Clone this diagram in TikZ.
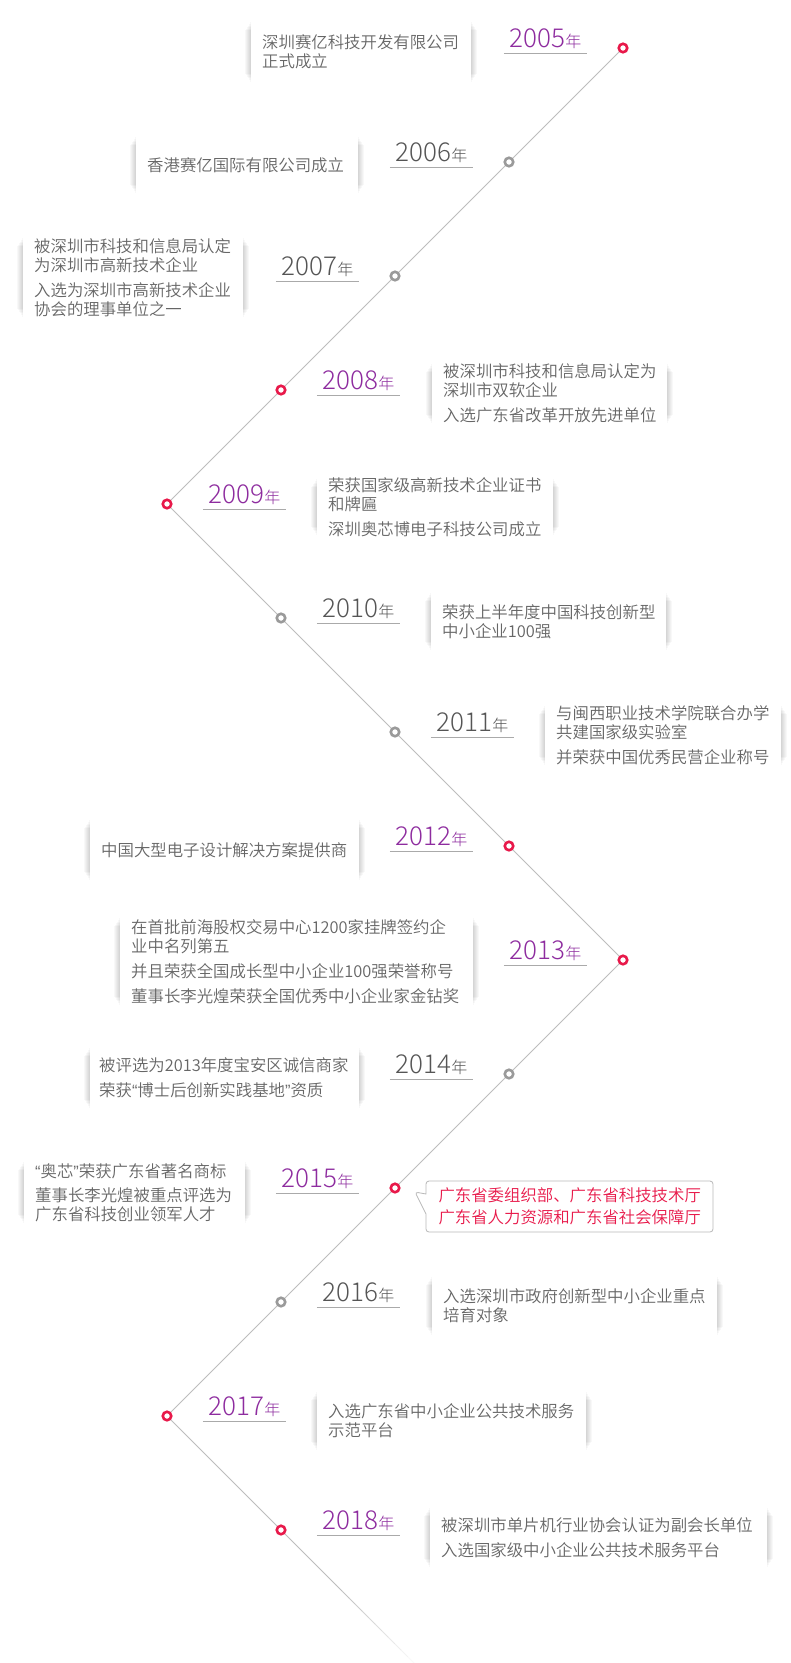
\documentclass[tikz,border=0pt]{standalone}
\usepackage{fontspec}
\setmainfont{Noto Sans CJK SC DemiLight}
\newfontfamily\yrfont{Noto Sans CJK SC Light}
\newfontfamily\qfont{Liberation Sans}
\usetikzlibrary{shapes.callouts,calc}

\definecolor{hotred}{HTML}{E8194A}
\definecolor{yrpurple}{HTML}{8E2C9F}
\definecolor{yrgray}{HTML}{555555}
\definecolor{dotgray}{HTML}{9A9A9A}
\definecolor{linegray}{HTML}{BDBDBD}
\definecolor{txtgray}{HTML}{666666}

\pgfdeclarelayer{bg}
\pgfdeclarelayer{shade}
\pgfsetlayers{bg,shade,main}

\newcommand{\nian}{{\fontsize{16pt}{16pt}\selectfont 年}}
\newcommand{\qopen}{{\qfont “}}
\newcommand{\qclose}{{\qfont ”}}

\begin{document}
\begin{tikzpicture}[
  x=1pt,y=-1pt,
  dotred/.style={circle,draw=hotred,fill=white,line width=2.6pt,minimum size=8.5pt,inner sep=0pt},
  dotgray/.style={dotred,draw=dotgray},
  yr/.style={anchor=south,inner xsep=0pt,inner ysep=5pt,text depth=0pt,minimum width=83pt,
    font=\yrfont\fontsize{26pt}{26pt}\selectfont,
    append after command={(\tikzlastnode.south west) edge[draw=linegray!90!black,line width=0.8pt] (\tikzlastnode.south east)}},
  yrhot/.style={yr,text=yrpurple},
  yrcold/.style={yr,text=yrgray},
  card/.style={anchor=west,fill=white,text=txtgray,align=left,inner xsep=11pt,inner ysep=0pt,
    text width=#1,font=\fontsize{16.4pt}{19pt}\selectfont},
  tline/.style={draw=linegray,line width=0.9pt}
]
  \begin{pgfonlayer}{bg}
    \fill[white] (0,0) rectangle (790,1663);
  \end{pgfonlayer}
  \useasboundingbox (0,0) rectangle (790,1663);

  % zigzag points
  \node[dotred]  (c05) at (623,48)   {};
  \node[dotgray] (c06) at (509,162)  {};
  \node[dotgray] (c07) at (395,276)  {};
  \node[dotred]  (c08) at (281,390)  {};
  \node[dotred]  (c09) at (167,504)  {};
  \node[dotgray] (c10) at (281,618)  {};
  \node[dotgray] (c11) at (395,732)  {};
  \node[dotred]  (c12) at (509,846)  {};
  \node[dotred]  (c13) at (623,960)  {};
  \node[dotgray] (c14) at (509,1074) {};
  \node[dotred]  (c15) at (395,1188) {};
  \node[dotgray] (c16) at (281,1302) {};
  \node[dotred]  (c17) at (167,1416) {};
  \node[dotred]  (c18) at (281,1530) {};
  \coordinate (fadeA) at (336,1585);
  \coordinate (tail) at (414,1663);

  \draw[tline] (c05)--(c06)--(c07)--(c08)--(c09)--(c10)--(c11)--(c12)
               --(c13)--(c14)--(c15)--(c16)--(c17)--(c18)--(fadeA);
  \foreach \k [evaluate=\k as \op using 1-\k/12] in {0,...,11}
    \draw[tline,draw opacity=\op] ($(fadeA)!\k/12!(tail)$)--($(fadeA)!\k/12+1/12!(tail)$);

  % years
  \node[yrhot]  (y05) at (545.5,53)   {2005\nian};
  \node[yrcold] (y06) at (431.5,167)  {2006\nian};
  \node[yrcold] (y07) at (317.5,281)  {2007\nian};
  \node[yrhot]  (y08) at (358.5,395)  {2008\nian};
  \node[yrhot]  (y09) at (244.5,509)  {2009\nian};
  \node[yrcold] (y10) at (358.5,623)  {2010\nian};
  \node[yrcold] (y11) at (472.5,737)  {2011\nian};
  \node[yrhot]  (y12) at (431.5,851)  {2012\nian};
  \node[yrhot]  (y13) at (545.5,965)  {2013\nian};
  \node[yrcold] (y14) at (431.5,1079) {2014\nian};
  \node[yrhot]  (y15) at (317.5,1193) {2015\nian};
  \node[yrcold] (y16) at (358.5,1307) {2016\nian};
  \node[yrhot]  (y17) at (244.5,1421) {2017\nian};
  \node[yrhot]  (y18) at (358.5,1535) {2018\nian};

  % events
  \node[card=198pt,minimum height=70pt] (b05) at (251,52)
    {深圳赛亿科技开发有限公司\\正式成立};
  \node[card=200pt,minimum height=66pt] (b06) at (136,165)
    {香港赛亿国际有限公司成立};
  \node[card=198pt,minimum height=89pt] (b07) at (23,277.5)
    {被深圳市科技和信息局认定\\为深圳市高新技术企业\\[6pt]入选为深圳市高新技术企业\\协会的理事单位之一};
  \node[card=213pt,minimum height=69pt] (b08) at (432,393.5)
    {被深圳市科技和信息局认定为\\深圳市双软企业\\[6pt]入选广东省改革开放先进单位};
  \node[card=214pt,minimum height=66pt] (b09) at (317,507)
    {荣获国家级高新技术企业证书\\和牌匾\\[6pt]深圳奥芯博电子科技公司成立};
  \node[card=213pt,minimum height=67pt] (b10) at (431,621.5)
    {荣获上半年度中国科技创新型\\中小企业100强};
  \node[card=214pt,minimum height=69pt] (b11) at (545,735.5)
    {与闽西职业技术学院联合办学\\共建国家级实验室\\[6pt]并荣获中国优秀民营企业称号};
  \node[card=247pt,minimum height=70pt] (b12) at (90,850)
    {中国大型电子设计解决方案提供商};
  \node[card=331pt,minimum height=97pt] (b13) at (120,961.5)
    {在首批前海股权交易中心1200家挂牌签约企\\业中名列第五\\[6pt]并且荣获全国成长型中小企业100强荣誉称号\\[6pt]董事长李光煌荣获全国优秀中小企业家金钻奖};
  \node[card=251pt,inner xsep=9pt,minimum height=70pt] (b14) at (90,1078)
    {被评选为2013年度宝安区诚信商家\\[6pt]荣获\qopen 博士后创新实践基地\qclose 资质};
  \node[card=199pt,minimum height=71pt] (b15) at (24,1192.5)
    {\qopen 奥芯\qclose 荣获广东省著名商标\\[5pt]董事长李光煌被重点评选为\\广东省科技创业领军人才};
  \node[card=263pt,minimum height=68pt] (b16) at (432,1306)
    {入选深圳市政府创新型中小企业重点\\培育对象};
  \node[card=247pt,minimum height=68pt] (b17) at (317,1421)
    {入选广东省中小企业公共技术服务\\示范平台};
  \node[card=315pt,minimum height=69pt] (b18) at (430,1537.5)
    {被深圳市单片机行业协会认证为副会长单位\\[6pt]入选国家级中小企业公共技术服务平台};

  % side shadows of the cards
  \begin{pgfonlayer}{shade}
    \foreach \b in {b05,b06,b07,b08,b09,b10,b11,b12,b13,b14,b15,b16,b17,b18}
      \foreach \i in {1,...,6}
        \fill[black,fill opacity=0.026] ($(\b.north west)+(-\i,4+1.6*\i)$) rectangle ($(\b.south east)+(\i,-4-1.6*\i)$);
  \end{pgfonlayer}

  % note beside 2015
  \node[rectangle callout,callout absolute pointer={(415,1192)},callout pointer width=20pt,
    draw=gray!55,line width=0.8pt,rounded corners=3pt,fill=white,text=hotred,align=left,
    inner xsep=12.5pt,inner ysep=0pt,text width=262pt,minimum height=51pt,
    font=\fontsize{16.4pt}{22pt}\selectfont] (n15) at (569.5,1206.5)
    {广东省委组织部、广东省科技技术厅\\广东省人力资源和广东省社会保障厅};
\end{tikzpicture}
\end{document}
